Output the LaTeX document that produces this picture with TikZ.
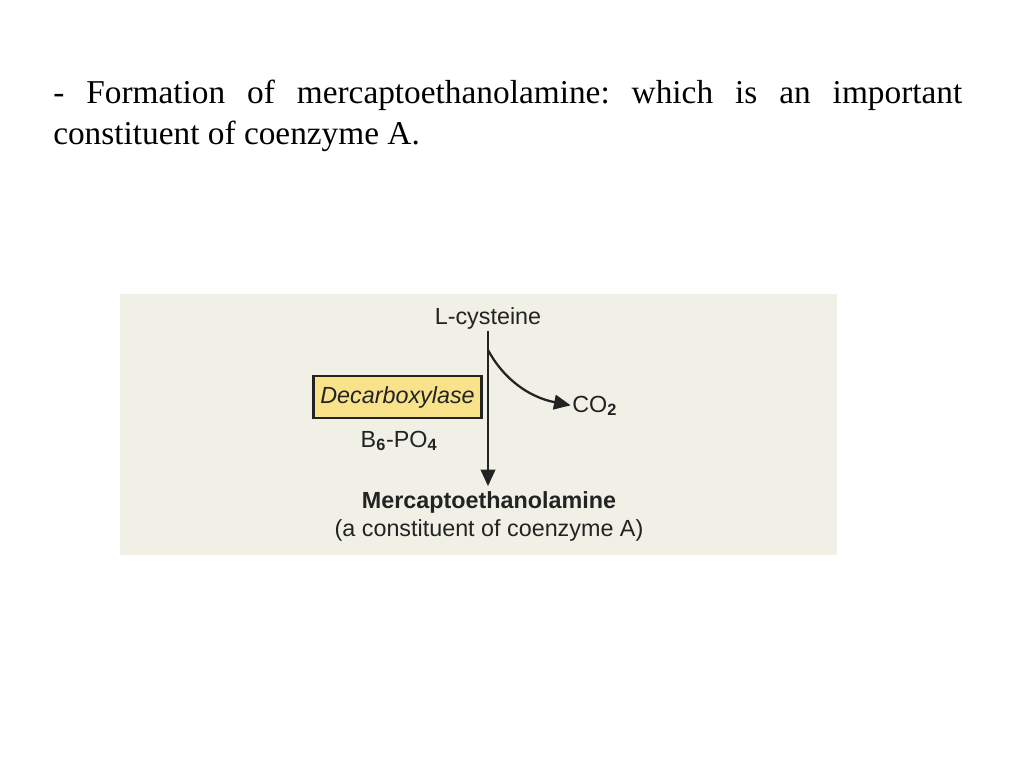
\documentclass[tikz,border=0pt]{standalone}
\usepackage{fontspec}
\setmainfont{Liberation Serif}
\newfontfamily\diagfont{Liberation Sans}
\usetikzlibrary{arrows.meta}
\definecolor{panelbg}{RGB}{240,240,230}
\definecolor{enzfill}{RGB}{249,227,138}
\definecolor{inkgray}{RGB}{35,35,35}
\tikzset{
  chem/.style={font=\diagfont\fontsize{17.5}{20}\selectfont, text=inkgray, inner sep=0pt, anchor=base},
  flow/.style={draw=inkgray, line width=1.7pt, -{Triangle[length=12.5pt,width=11pt]}},
}
\frenchspacing

\begin{document}
\begin{tikzpicture}[x=0.75pt,y=-0.75pt]
    \useasboundingbox (0,0) rectangle (1024,768);

    % Heading
    \node[anchor=base west, inner sep=0pt, font=\fontsize{25}{30}\selectfont] (head1) at (53,103) {\makebox[681.75pt][s]{- Formation of mercaptoethanolamine: which is an important}};
    \node[anchor=base west, inner sep=0pt, font=\fontsize{25}{30}\selectfont] (head2) at (53,144) {constituent of coenzyme A.};

    % Panel
    \fill[panelbg] (120,294) rectangle (837,555);

    % Substrate and product
    \node[chem] (cys) at (488,324) {L-cysteine};
    \node[chem, font=\diagfont\bfseries\fontsize{17.5}{20}\selectfont] (merc) at (489,508) {Mercaptoethanolamine};
    \node[chem] (note) at (489,536) {(a constituent of coenzyme A)};

    % Enzyme and cofactor
    \node[chem, anchor=center, draw=inkgray, line width=1.7pt, fill=enzfill, minimum width=126pt, minimum height=31.5pt] (enz) at (397.5,397) {\itshape Decarboxylase};
    \node[chem] (cof) at (399,447) {B\textsubscript{\textbf{6}}-PO\textsubscript{\textbf{4}}};

    % Side product
    \node[chem, anchor=base west] (co2) at (572,412) {CO\textsubscript{\textbf{2}}};

    % Arrows
    \coordinate (split) at (488,350);
    \draw[flow, shorten <=1.5pt, shorten >=3.5pt] (cys.south) -- (cys.south |- merc.north);
    \draw[flow, shorten >=1pt] (split) .. controls (503,378) and (528,397) .. (co2.west);
\end{tikzpicture}
\end{document}
